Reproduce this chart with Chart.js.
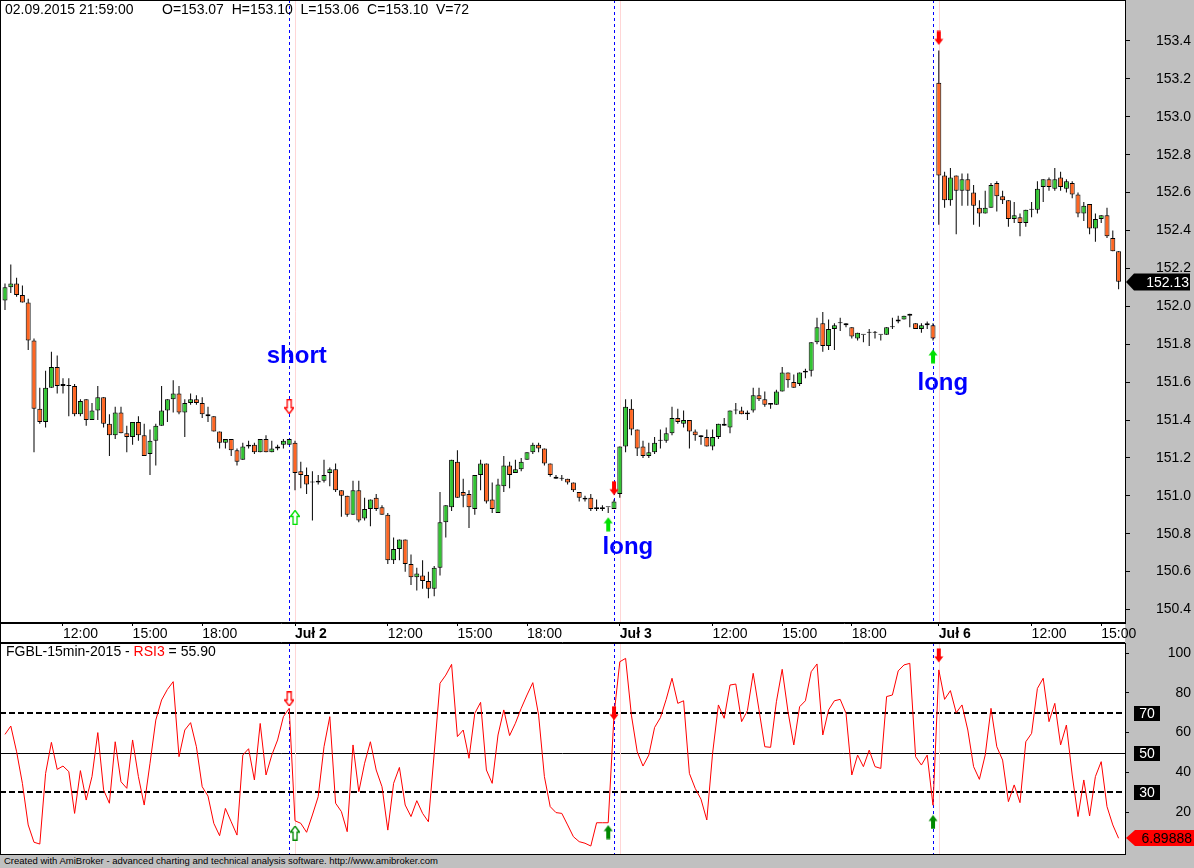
<!DOCTYPE html>
<html>
<head>
<meta charset="utf-8">
<title>FGBL-15min-2015</title>
<script src="https://cdn.jsdelivr.net/npm/chart.js@4.4.1/dist/chart.umd.min.js"></script>
<style>
  html, body { margin: 0; padding: 0; background: #c0c0c0; }
  #wrap { position: relative; width: 1194px; height: 868px; background: #c0c0c0; overflow: hidden; }
  #priceChart { position: absolute; left: 0; top: 0; }
  #rsiChart { position: absolute; left: 0; top: 643px; }
  #footer { position: absolute; left: 4px; top: 855px; font: 9.5px "Liberation Sans", Arial, sans-serif; color: #000; white-space: nowrap; }
</style>
</head>
<body>
<div id="wrap">
  <canvas id="priceChart" width="1194" height="643"></canvas>
  <canvas id="rsiChart" width="1194" height="212"></canvas>
  <div id="footer">Created with AmiBroker - advanced charting and technical analysis software. http://www.amibroker.com</div>
</div>
<script>
// 15 minute bars, 01.07 09:30 -> 06.07 16:00
const opens = [
  152.03, 152.10, 152.12, 152.06, 152.02, 151.82, 151.46, 151.39, 151.57, 151.68,
  151.58, 151.58, 151.58, 151.43, 151.51, 151.40, 151.45, 151.52, 151.38, 151.32,
  151.44, 151.33, 151.31, 151.39, 151.32, 151.22, 151.29, 151.37, 151.45, 151.51,
  151.54, 151.44, 151.49, 151.51, 151.49, 151.43, 151.42, 151.34, 151.28, 151.30,
  151.24, 151.19, 151.26, 151.27, 151.23, 151.30, 151.23, 151.25, 151.27, 151.27,
  151.28, 151.13, 151.11, 151.07, 151.07, 151.08, 151.12, 151.14, 151.03, 151.00,
  150.90, 151.03, 150.88, 150.93, 150.99, 150.94, 150.90, 150.66, 150.72, 150.77,
  150.64, 150.57, 150.58, 150.55, 150.51, 150.62, 150.86, 150.94, 151.18, 151.02,
  151.01, 150.93, 151.11, 151.17, 150.98, 150.91, 151.05, 151.16, 151.12, 151.14,
  151.19, 151.23, 151.27, 151.25, 151.17, 151.10, 151.09, 151.09, 151.07, 151.02,
  150.99, 150.99, 150.93, 150.93, 150.94, 150.93, 151.01, 151.26, 151.46, 151.35,
  151.26, 151.21, 151.23, 151.29, 151.29, 151.33, 151.41, 151.38, 151.40, 151.34,
  151.32, 151.31, 151.26, 151.31, 151.38, 151.36, 151.45, 151.45, 151.43, 151.45,
  151.53, 151.51, 151.49, 151.48, 151.55, 151.65, 151.60, 151.59, 151.65, 151.66,
  151.81, 151.91, 151.79, 151.88, 151.91, 151.91, 151.89, 151.83, 151.85, 151.86,
  151.86, 151.85, 151.85, 151.89, 151.92, 151.93, 151.95, 151.91, 151.88, 151.90,
  151.90, 153.18, 152.69, 152.56, 152.69, 152.61, 152.67, 152.60, 152.52, 152.49,
  152.52, 152.65, 152.58, 152.56, 152.46, 152.47, 152.44, 152.51, 152.51, 152.63,
  152.67, 152.62, 152.68, 152.62, 152.65, 152.59, 152.49, 152.54, 152.41, 152.46,
  152.48, 152.36, 152.29
];
const highs = [
  152.12, 152.22, 152.15, 152.11, 152.04, 151.83, 151.57, 151.66, 151.76, 151.74,
  151.62, 151.62, 151.59, 151.51, 151.51, 151.49, 151.58, 151.52, 151.43, 151.47,
  151.47, 151.37, 151.39, 151.42, 151.38, 151.35, 151.38, 151.58, 151.51, 151.61,
  151.58, 151.51, 151.54, 151.53, 151.52, 151.47, 151.42, 151.34, 151.30, 151.30,
  151.25, 151.28, 151.29, 151.28, 151.30, 151.32, 151.29, 151.27, 151.30, 151.30,
  151.29, 151.18, 151.15, 151.13, 151.11, 151.19, 151.15, 151.17, 151.03, 151.00,
  151.08, 151.08, 150.99, 150.98, 151.01, 150.95, 150.91, 150.78, 150.77, 150.77,
  150.69, 150.62, 150.66, 150.60, 150.63, 151.02, 150.95, 151.19, 151.24, 151.09,
  151.03, 151.11, 151.19, 151.17, 151.07, 151.09, 151.21, 151.18, 151.19, 151.20,
  151.23, 151.28, 151.28, 151.25, 151.17, 151.11, 151.11, 151.09, 151.07, 151.02,
  151.00, 151.01, 150.98, 150.95, 150.94, 150.98, 151.26, 151.51, 151.51, 151.35,
  151.29, 151.28, 151.31, 151.35, 151.36, 151.47, 151.46, 151.45, 151.40, 151.35,
  151.32, 151.35, 151.35, 151.38, 151.41, 151.45, 151.49, 151.47, 151.45, 151.57,
  151.57, 151.55, 151.49, 151.56, 151.68, 151.65, 151.64, 151.65, 151.67, 151.81,
  151.94, 151.97, 151.93, 151.91, 151.94, 151.91, 151.89, 151.86, 151.85, 151.88,
  151.87, 151.85, 151.89, 151.94, 151.95, 151.95, 151.96, 151.91, 151.91, 151.92,
  151.91, 153.35, 152.71, 152.73, 152.69, 152.70, 152.70, 152.64, 152.56, 152.61,
  152.65, 152.66, 152.61, 152.56, 152.55, 152.49, 152.51, 152.55, 152.66, 152.67,
  152.68, 152.73, 152.71, 152.67, 152.66, 152.60, 152.55, 152.54, 152.49, 152.48,
  152.52, 152.40, 152.29
];
const lows = [
  151.98, 152.07, 152.05, 152.02, 151.77, 151.23, 151.38, 151.36, 151.57, 151.54,
  151.54, 151.42, 151.42, 151.42, 151.37, 151.40, 151.40, 151.36, 151.21, 151.30,
  151.33, 151.23, 151.27, 151.29, 151.21, 151.11, 151.16, 151.37, 151.39, 151.44,
  151.43, 151.31, 151.48, 151.48, 151.41, 151.39, 151.34, 151.25, 151.25, 151.21,
  151.16, 151.19, 151.25, 151.22, 151.23, 151.23, 151.23, 151.24, 151.25, 151.27,
  151.03, 151.04, 151.01, 150.87, 151.06, 151.07, 151.05, 151.02, 150.89, 150.89,
  150.90, 150.86, 150.87, 150.84, 150.92, 150.90, 150.64, 150.64, 150.66, 150.60,
  150.53, 150.50, 150.51, 150.46, 150.47, 150.58, 150.78, 150.92, 150.99, 150.94,
  150.83, 150.90, 151.03, 150.96, 150.91, 150.91, 151.02, 151.04, 151.12, 151.13,
  151.19, 151.22, 151.23, 151.16, 151.10, 151.09, 151.08, 151.06, 151.02, 150.97,
  150.97, 150.92, 150.92, 150.92, 150.91, 150.93, 150.99, 151.23, 151.32, 151.21,
  151.20, 151.20, 151.22, 151.25, 151.28, 151.32, 151.38, 151.36, 151.25, 151.29,
  151.27, 151.26, 151.24, 151.30, 151.37, 151.33, 151.43, 151.43, 151.40, 151.44,
  151.50, 151.47, 151.46, 151.48, 151.55, 151.57, 151.57, 151.58, 151.62, 151.63,
  151.80, 151.76, 151.77, 151.77, 151.87, 151.89, 151.83, 151.82, 151.81, 151.79,
  151.83, 151.82, 151.85, 151.88, 151.91, 151.93, 151.89, 151.88, 151.86, 151.88,
  151.82, 152.43, 152.52, 152.53, 152.38, 152.53, 152.53, 152.43, 152.42, 152.49,
  152.52, 152.50, 152.54, 152.42, 152.44, 152.37, 152.42, 152.47, 152.49, 152.55,
  152.61, 152.61, 152.61, 152.60, 152.57, 152.47, 152.45, 152.38, 152.34, 152.44,
  152.36, 152.29, 152.09
];
const closes = [
  152.10, 152.12, 152.06, 152.02, 151.82, 151.46, 151.39, 151.57, 151.68, 151.58,
  151.59, 151.58, 151.43, 151.50, 151.40, 151.45, 151.52, 151.38, 151.32, 151.44,
  151.33, 151.31, 151.39, 151.32, 151.21, 151.29, 151.37, 151.45, 151.51, 151.54,
  151.44, 151.49, 151.51, 151.49, 151.43, 151.42, 151.34, 151.28, 151.30, 151.24,
  151.18, 151.26, 151.27, 151.23, 151.30, 151.23, 151.25, 151.26, 151.29, 151.30,
  151.12, 151.11, 151.06, 151.07, 151.08, 151.11, 151.14, 151.03, 151.00, 150.90,
  151.03, 150.87, 150.93, 150.98, 150.93, 150.90, 150.66, 150.72, 150.77, 150.64,
  150.57, 150.59, 150.55, 150.51, 150.62, 150.86, 150.95, 151.19, 150.99, 151.00,
  150.94, 151.11, 151.17, 150.97, 150.93, 151.06, 151.16, 151.11, 151.14, 151.18,
  151.23, 151.27, 151.25, 151.17, 151.11, 151.09, 151.09, 151.07, 151.03, 150.99,
  150.98, 150.93, 150.94, 150.94, 150.94, 150.97, 151.26, 151.47, 151.35, 151.25,
  151.21, 151.23, 151.28, 151.29, 151.33, 151.41, 151.39, 151.40, 151.34, 151.32,
  151.31, 151.26, 151.31, 151.38, 151.37, 151.45, 151.45, 151.43, 151.44, 151.53,
  151.51, 151.48, 151.48, 151.55, 151.65, 151.61, 151.57, 151.65, 151.66, 151.81,
  151.89, 151.79, 151.88, 151.90, 151.91, 151.90, 151.84, 151.86, 151.85, 151.86,
  151.86, 151.85, 151.89, 151.89, 151.93, 151.95, 151.96, 151.88, 151.90, 151.91,
  151.83, 152.69, 152.56, 152.68, 152.61, 152.67, 152.61, 152.53, 152.49, 152.52,
  152.64, 152.58, 152.56, 152.46, 152.48, 152.44, 152.51, 152.51, 152.62, 152.67,
  152.63, 152.67, 152.63, 152.66, 152.59, 152.49, 152.53, 152.41, 152.46, 152.48,
  152.37, 152.29, 152.13
];
// RSI(3) of the closes
const rsi = [
  59.1, 63.3, 50.4, 34.5, 13.6, 4.9, 4.0, 39.5, 55.1, 41.5,
  43.2, 40.4, 19.4, 40.9, 26.1, 37.9, 60.0, 31.2, 24.5, 55.4,
  35.3, 32.0, 56.3, 37.9, 23.6, 44.6, 66.3, 76.4, 81.7, 85.6,
  47.9, 61.3, 65.0, 52.9, 32.8, 28.1, 14.4, 8.2, 21.9, 15.2,
  8.5, 48.7, 51.9, 36.2, 64.6, 38.7, 48.7, 56.3, 68.0, 72.2,
  15.7, 14.4, 9.9, 18.6, 27.8, 52.9, 68.0, 24.5, 20.3, 10.2,
  53.8, 30.3, 44.6, 55.4, 41.2, 32.8, 11.0, 34.5, 42.5, 23.6,
  17.8, 25.8, 19.4, 15.2, 49.6, 84.8, 88.9, 94.3, 58.0, 61.3,
  47.1, 69.7, 75.2, 41.2, 34.5, 58.8, 71.4, 58.5, 64.7, 72.2,
  78.9, 85.1, 68.8, 37.9, 22.8, 19.8, 19.4, 13.6, 7.7, 5.2,
  4.4, 3.0, 14.7, 14.7, 14.7, 68.8, 95.6, 97.3, 68.8, 50.4,
  43.2, 48.7, 62.6, 67.5, 76.7, 87.3, 74.7, 76.0, 39.5, 32.0,
  26.5, 16.1, 49.6, 73.9, 67.2, 83.9, 84.4, 65.5, 71.0, 89.8,
  71.4, 52.9, 52.6, 75.5, 91.8, 70.5, 53.8, 73.0, 76.0, 90.6,
  94.5, 58.8, 71.4, 76.0, 76.7, 69.7, 38.7, 48.7, 42.9, 51.2,
  42.9, 42.0, 78.1, 78.9, 91.0, 94.0, 94.8, 47.9, 43.7, 48.7,
  23.5, 91.5, 76.7, 81.1, 70.0, 73.9, 61.3, 42.9, 36.5, 48.7,
  72.2, 52.9, 46.2, 25.3, 33.7, 24.8, 55.4, 59.6, 82.2, 87.3,
  65.5, 74.7, 53.8, 63.8, 38.7, 17.8, 36.2, 18.1, 37.9, 45.4,
  22.8, 13.6, 6.89888
];

// axis ticks (bar index -> label)
const timeTicks = [10, 22, 34, 50, 66, 78, 90, 106, 122, 134, 146, 161, 177, 189];
const timeLabels = ["12:00", "15:00", "18:00", "Juł 2", "12:00", "15:00", "18:00", "Juł 3", "12:00", "15:00", "18:00", "Juł 6", "12:00", "15:00"];
const dayStarts = [50, 106, 161];
const signalBars = [49, 105, 160];
const priceTicks = [150.4, 150.6, 150.8, 151.0, 151.2, 151.4, 151.6, 151.8, 152.0, 152.2, 152.4, 152.6, 152.8, 153.0, 153.2, 153.4];
const rsiTicks = [20, 40, 60, 80, 100];
const rsiLevels = [70, 50, 30];

// trade arrows {bar, value}
const shortPrice = [{ x: 49, y: 151.47 }];
const coverPrice = [{ x: 50, y: 150.886 }];
const sellPrice = [{ x: 105, y: 151.04 }, { x: 161, y: 153.416 }];
const buyPrice = [{ x: 104, y: 150.85 }, { x: 160, y: 151.736 }];
const shortRsi = [{ x: 49, y: 76.9 }];
const coverRsi = [{ x: 50, y: 9.5 }];
const sellRsi = [{ x: 105, y: 69.7 }, { x: 161, y: 98.8 }];
const buyRsi = [{ x: 104, y: 10.0 }, { x: 160, y: 15.1 }];
const notes = [
  { x: 50.3, y: 151.738, text: "short" },
  { x: 107.4, y: 150.73, text: "long" },
  { x: 161.7, y: 151.595, text: "long" }
];

const FONT = '"Liberation Sans", Arial, sans-serif';
const UP = "#33c433";
const DOWN = "#ff6622";
const GRAY = "#c0c0c0";
Chart.defaults.font.family = FONT;

// arrow pictures for pointStyle
function makeArrow(down, color, hollow) {
  const c = document.createElement("canvas");
  c.width = 10;
  c.height = 15;
  const g = c.getContext("2d");
  let pts = [[5, 0.5], [9.5, 6.5], [7, 6.5], [7, 14.5], [3, 14.5], [3, 6.5], [0.5, 6.5]];
  if (down) pts = pts.map(p => [p[0], 15 - p[1]]);
  g.beginPath();
  pts.forEach((p, i) => (i ? g.lineTo(p[0], p[1]) : g.moveTo(p[0], p[1])));
  g.closePath();
  if (hollow) {
    g.fillStyle = "#fff";
    g.fill();
    g.strokeStyle = color;
    g.lineWidth = 1.3;
    g.stroke();
  } else {
    g.fillStyle = color;
    g.fill();
  }
  return c;
}

function arrowSet(data, img) {
  return { type: "scatter", data: data, pointStyle: img, pointRadius: 5, order: 0 };
}

const idx = closes.map((_, i) => i);
const xMin = -0.862;
const xMax = 193.103;

function vLines(chart, bottom) {
  const { ctx, scales: { x } } = chart;
  ctx.save();
  ctx.lineWidth = 1;
  ctx.strokeStyle = "#ffd6d6";
  dayStarts.forEach(b => {
    const px = Math.round(x.getPixelForValue(b)) + 0.5;
    ctx.beginPath(); ctx.moveTo(px, 0); ctx.lineTo(px, bottom); ctx.stroke();
  });
  ctx.strokeStyle = "#0000ff";
  ctx.setLineDash([3, 3]);
  signalBars.forEach(b => {
    const px = Math.round(x.getPixelForValue(b)) + 0.5;
    ctx.beginPath(); ctx.moveTo(px, 0); ctx.lineTo(px, bottom); ctx.stroke();
  });
  ctx.restore();
}

function frame(ctx, a) {
  ctx.save();
  ctx.strokeStyle = "#000";
  ctx.lineWidth = 1;
  ctx.strokeRect(a.left + 0.5, a.top + 0.5, a.right - a.left, a.bottom - a.top - 1);
  ctx.restore();
}

const priceDeco = {
  id: "priceDeco",
  beforeDraw(chart) {
    const { ctx, chartArea: a, width, height } = chart;
    ctx.save();
    ctx.fillStyle = GRAY;
    ctx.fillRect(0, 0, width, height);
    ctx.fillStyle = "#fff";
    ctx.fillRect(a.left, a.top, a.right - a.left, height);
    ctx.strokeStyle = "#000";
    ctx.beginPath();
    ctx.moveTo(0, height - 0.5); ctx.lineTo(a.right, height - 0.5);
    ctx.moveTo(0.5, a.bottom); ctx.lineTo(0.5, height);
    ctx.stroke();
    ctx.restore();
  },
  beforeDatasetsDraw(chart) {
    vLines(chart, chart.chartArea.bottom);
  },
  afterDatasetsDraw(chart) {
    const { ctx, scales: { x, y } } = chart;
    ctx.save();
    ctx.font = "bold 24px " + FONT;
    ctx.fillStyle = "#0000ff";
    ctx.textAlign = "center";
    ctx.textBaseline = "middle";
    notes.forEach(n => ctx.fillText(n.text, x.getPixelForValue(n.x), y.getPixelForValue(n.y)));
    ctx.restore();
  },
  afterDraw(chart) {
    const { ctx, chartArea: a, scales: { y } } = chart;
    frame(ctx, a);
    ctx.save();
    // header line
    ctx.font = "14px " + FONT;
    ctx.fillStyle = "#000";
    ctx.textBaseline = "middle";
    ctx.fillText("02.09.2015 21:59:00", 5, 10);
    ctx.fillText("O=153.07  H=153.10  L=153.06  C=153.10  V=72", 162, 10);
    // last price marker
    const last = closes[closes.length - 1];
    const py = Math.round(y.getPixelForValue(last));
    ctx.fillStyle = "#000";
    ctx.beginPath();
    ctx.moveTo(a.right + 1, py);
    ctx.lineTo(a.right + 9, py - 8.5);
    ctx.lineTo(1190, py - 8.5);
    ctx.lineTo(1190, py + 8.5);
    ctx.lineTo(a.right + 9, py + 8.5);
    ctx.closePath();
    ctx.fill();
    ctx.fillStyle = "#fff";
    ctx.textAlign = "right";
    ctx.fillText(last.toFixed(2), 1189, py + 1);
    ctx.restore();
  }
};

const rsiDeco = {
  id: "rsiDeco",
  beforeDraw(chart) {
    const { ctx, chartArea: a, width, height } = chart;
    ctx.save();
    ctx.fillStyle = GRAY;
    ctx.fillRect(0, 0, width, height);
    ctx.fillStyle = "#fff";
    ctx.fillRect(a.left, a.top, a.right - a.left, a.bottom - a.top);
    ctx.restore();
  },
  beforeDatasetsDraw(chart) {
    const { ctx, chartArea: a, scales: { y } } = chart;
    ctx.save();
    ctx.strokeStyle = "#000";
    rsiLevels.forEach(v => {
      const py = Math.round(y.getPixelForValue(v));
      if (v === 50) {
        ctx.setLineDash([]);
        ctx.lineWidth = 1;
        ctx.beginPath(); ctx.moveTo(a.left, py + 0.5); ctx.lineTo(a.right, py + 0.5); ctx.stroke();
      } else {
        ctx.setLineDash([6, 3]);
        ctx.lineWidth = 2;
        ctx.beginPath(); ctx.moveTo(a.left, py); ctx.lineTo(a.right, py); ctx.stroke();
      }
    });
    ctx.restore();
    vLines(chart, a.bottom);
  },
  afterDraw(chart) {
    const { ctx, chartArea: a, scales: { y } } = chart;
    frame(ctx, a);
    ctx.save();
    ctx.font = "14px " + FONT;
    ctx.textBaseline = "middle";
    let tx = 6;
    [["FGBL-15min-2015 - ", "#000"], ["RSI3", "#ff0000"], [" = 55.90", "#000"]].forEach(p => {
      ctx.fillStyle = p[1];
      ctx.fillText(p[0], tx, 9);
      tx += ctx.measureText(p[0]).width;
    });
    // level boxes on the axis
    ctx.textAlign = "center";
    rsiLevels.forEach(v => {
      const py = Math.round(y.getPixelForValue(v));
      ctx.fillStyle = "#000";
      ctx.fillRect(1134, py - 7, 26, 15);
      ctx.fillStyle = "#fff";
      ctx.fillText(String(v), 1147, py + 1);
    });
    // last value marker
    const last = rsi[rsi.length - 1];
    const py = Math.round(y.getPixelForValue(last));
    ctx.fillStyle = "#ff0000";
    ctx.beginPath();
    ctx.moveTo(a.right + 1, py);
    ctx.lineTo(a.right + 10, py - 8);
    ctx.lineTo(1194, py - 8);
    ctx.lineTo(1194, py + 8);
    ctx.lineTo(a.right + 10, py + 8);
    ctx.closePath();
    ctx.fill();
    ctx.fillStyle = "#000";
    ctx.textAlign = "right";
    ctx.fillText(last.toFixed(5), 1192, py + 1);
    ctx.restore();
  }
};

function noPad(s) {
  s.paddingTop = 0;
  s.paddingBottom = 0;
  s.paddingLeft = 0;
  s.paddingRight = 0;
}

new Chart(document.getElementById("priceChart"), {
  type: "bar",
  data: {
    datasets: [
      arrowSet(shortPrice, makeArrow(true, "#ff0000", true)),
      arrowSet(coverPrice, makeArrow(false, "#00e000", true)),
      arrowSet(sellPrice, makeArrow(true, "#ff0000", false)),
      arrowSet(buyPrice, makeArrow(false, "#00e000", false)),
      {
        // candle bodies
        data: idx.map(i => ({ x: i, y: [opens[i], closes[i]] })),
        backgroundColor: idx.map(i => (closes[i] >= opens[i] ? UP : DOWN)),
        borderColor: "#000",
        borderWidth: 1,
        borderSkipped: false,
        barThickness: 5,
        minBarLength: 1,
        inflateAmount: 0,
        grouped: false,
        order: 1
      },
      {
        // wicks
        data: idx.map(i => ({ x: i, y: [lows[i], highs[i]] })),
        backgroundColor: "#000",
        borderWidth: 0,
        barThickness: 1,
        inflateAmount: 0,
        grouped: false,
        order: 2
      }
    ]
  },
  options: {
    responsive: false,
    animation: false,
    events: [],
    layout: { autoPadding: false, padding: { left: 0, right: 3, top: 0, bottom: 0 } },
    plugins: { legend: { display: false }, tooltip: { enabled: false } },
    scales: {
      x: {
        type: "linear",
        offset: false,
        min: xMin,
        max: xMax,
        afterBuildTicks: s => { s.ticks = timeTicks.map(v => ({ value: v })); },
        afterFit: s => { s.height = 20; noPad(s); },
        ticks: {
          autoSkip: false,
          maxRotation: 0,
          align: "start",
          padding: 0,
          color: "#000",
          callback: (v, i) => timeLabels[i],
          font: ctx => ({ size: 14, weight: dayStarts.includes(ctx.tick && ctx.tick.value) ? "bold" : "normal" })
        },
        grid: { offset: false, drawOnChartArea: false, tickLength: 3, color: "#000" },
        border: { display: true, color: "#000" }
      },
      y: {
        position: "right",
        min: 150.329,
        max: 153.616,
        afterBuildTicks: s => { s.ticks = priceTicks.map(v => ({ value: v })); },
        afterFit: s => { s.width = 66; noPad(s); },
        ticks: { autoSkip: false, crossAlign: "far", color: "#000", font: { size: 14 }, callback: v => v.toFixed(1) },
        grid: { drawOnChartArea: false, tickLength: 5, color: "#000" },
        border: { display: true, color: "#000" }
      }
    }
  },
  plugins: [priceDeco]
});

new Chart(document.getElementById("rsiChart"), {
  type: "line",
  data: {
    datasets: [
      arrowSet(shortRsi, makeArrow(true, "#ff0000", true)),
      arrowSet(coverRsi, makeArrow(false, "#008800", true)),
      arrowSet(sellRsi, makeArrow(true, "#ff0000", false)),
      arrowSet(buyRsi, makeArrow(false, "#008800", false)),
      {
        data: idx.map(i => ({ x: i, y: rsi[i] })),
        borderColor: "#ff0000",
        borderWidth: 1,
        pointRadius: 0,
        tension: 0,
        order: 1
      }
    ]
  },
  options: {
    responsive: false,
    animation: false,
    events: [],
    layout: { autoPadding: false, padding: { left: 0, right: 3, top: 0, bottom: 0 } },
    plugins: { legend: { display: false }, tooltip: { enabled: false } },
    scales: {
      x: { type: "linear", min: xMin, max: xMax, display: false },
      y: {
        position: "right",
        min: -1.51,
        max: 105.03,
        afterBuildTicks: s => { s.ticks = rsiTicks.map(v => ({ value: v })); },
        afterFit: s => { s.width = 66; noPad(s); },
        ticks: { autoSkip: false, crossAlign: "far", color: "#000", font: { size: 14 } },
        grid: { drawOnChartArea: false, tickLength: 4, color: "#000" },
        border: { display: true, color: "#000" }
      }
    }
  },
  plugins: [rsiDeco]
});
</script>
</body>
</html>
